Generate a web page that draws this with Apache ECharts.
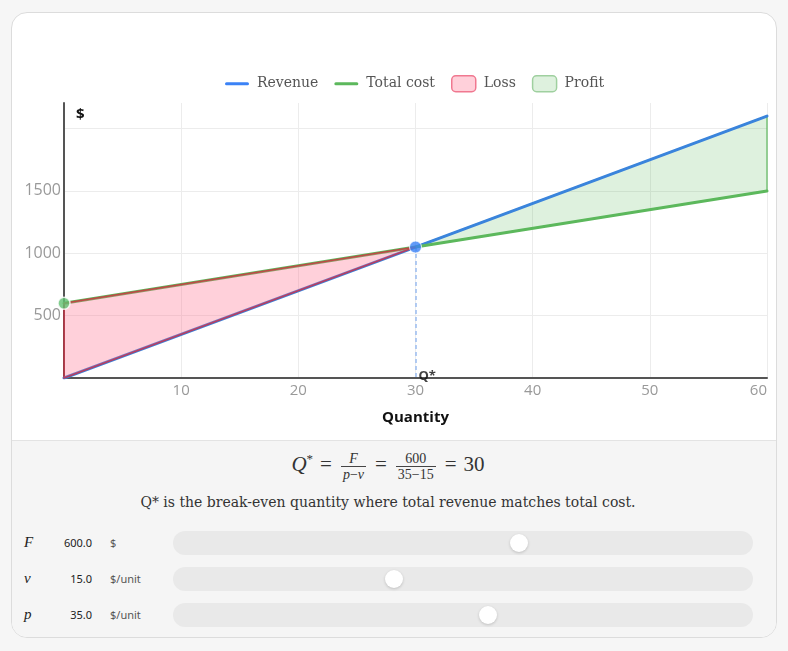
<!DOCTYPE html>
<html>
<head>
<meta charset="utf-8">
<script src="https://cdn.jsdelivr.net/npm/echarts@6/dist/echarts.min.js"></script>
<style>
  html, body { margin: 0; padding: 0; background: #f6f6f6; width: 788px; height: 651px; overflow: hidden; }
  #card { position: absolute; left: 11px; top: 12px; width: 764px; height: 624px; border: 1px solid #dcdcdc; border-radius: 16px; background: #fff; overflow: hidden; }
  #panel { position: absolute; left: 0; top: 427px; width: 764px; height: 200px; background: #f5f5f5; border-top: 1px solid #e3e3e3; }
  #chart { position: absolute; left: 0; top: 0; width: 788px; height: 440px; z-index: 2; }
  .formula { position: absolute; left: 0; width: 776px; top: 451px; text-align: center; font-family: "Liberation Serif", serif; font-size: 21px; color: #333; z-index: 3; }
  .formula i { font-style: italic; }
  .frac { display: inline-block; vertical-align: middle; text-align: center; font-size: 14px; line-height: 15px; margin: 0 2px; }
  .frac .num { display: block; padding: 0 2px; border-bottom: 1px solid #444; }
  .frac .den { display: block; padding: 0 2px; }
  .eq { margin: 0 7px; }
  .desc { position: absolute; left: 0; width: 776px; top: 494px; text-align: center; font-family: "DejaVu Serif", serif; font-size: 14px; color: #333; z-index: 3; }
  .row { position: absolute; left: 0; width: 788px; height: 24px; z-index: 3; }
  .sym { position: absolute; left: 24px; top: 3px; font-family: "Liberation Serif", serif; font-style: italic; font-size: 15px; color: #222; }
  .val { position: absolute; left: 50px; width: 42px; text-align: right; top: 4px; font-family: "Noto Sans", sans-serif; font-size: 11px; color: #222; }
  .unit { position: absolute; left: 110px; top: 4px; font-family: "Noto Sans", sans-serif; font-size: 11px; color: #555; }
  .track { position: absolute; left: 173px; top: 0; width: 580px; height: 24px; border-radius: 12px; background: #e9e9e9; }
  .thumb { position: absolute; top: 3px; width: 18px; height: 18px; border-radius: 9px; background: #fff; box-shadow: 0 1px 3px rgba(0,0,0,0.18); }
</style>
</head>
<body>
<div id="card"><div id="panel"></div></div>
<div id="chart"></div>
<div class="formula" id="formula"></div>
<div class="desc">Q* is the break-even quantity where total revenue matches total cost.</div>
<div id="sliders"></div>
<script>
// ---- data ----
const fixedCost = 600;      // F
const unitCost = 15;        // v
const unitPrice = 35;       // p
const breakEvenQ = 30;      // Q*
const quantity = [0, 30, 60];
const revenue = [0, 1050, 2100];
const totalCost = [600, 1050, 1500];
const lossQ = [0, 30, 0];
const lossV = [0, 1050, 600];
const profitQ = [30, 60, 60];
const profitV = [1050, 2100, 1500];
const xTickLabels = [10, 20, 30, 40, 50, 60];
const yTickLabels = [500, 1000, 1500];
const legendNames = ['Revenue', 'Total cost', 'Loss', 'Profit'];
const sliderRows = [
  { sym: 'F', value: fixedCost, unit: '$', min: 0, max: 1000 },
  { sym: 'v', value: unitCost, unit: '$/unit', min: 0, max: 40 },
  { sym: 'p', value: unitPrice, unit: '$/unit', min: 5, max: 60 }
];

// ---- formula & sliders (HTML) ----
document.getElementById('formula').innerHTML =
  '<i>Q</i><sup style="font-size:13px">*</sup><span class="eq">=</span>' +
  '<span class="frac"><span class="num"><i>F</i></span><span class="den"><i>p</i>\u2212<i>v</i></span></span>' +
  '<span class="eq">=</span>' +
  '<span class="frac"><span class="num">' + fixedCost + '</span><span class="den">' + unitPrice + '\u2212' + unitCost + '</span></span>' +
  '<span class="eq">=</span>' + breakEvenQ;

const sl = document.getElementById('sliders');
sliderRows.forEach((r, i) => {
  const top = 531 + i * 36;
  const frac = (r.value - r.min) / (r.max - r.min);
  const thumbLeft = 12 + frac * (580 - 24) - 9;
  const d = document.createElement('div');
  d.className = 'row';
  d.style.top = top + 'px';
  d.innerHTML = '<span class="sym">' + r.sym + '</span><span class="val">' + r.value.toFixed(1) +
    '</span><span class="unit">' + r.unit + '</span><div class="track"><div class="thumb" style="left:' +
    thumbLeft.toFixed(1) + 'px"></div></div>';
  sl.appendChild(d);
});

// ---- chart ----
const chart = echarts.init(document.getElementById('chart'), null, { renderer: 'canvas' });
const BLUE = '#3b82f6', GREEN = '#5cb85c';
// line icon: tiny invisible corner marks keep the bounding box 24x16 so the bar stays thin
const LINE_ICON = 'path://M0,0 L0.01,0 L0,0.01 Z M24,16 L23.99,16 L24,15.99 Z M1.5,6.5 L22.5,6.5 A1.5,1.5 0 0 1 22.5,9.5 L1.5,9.5 A1.5,1.5 0 0 1 1.5,6.5 Z';

function polygonSeries(name, xs, ys, fill, stroke, z) {
  return {
    name: name, type: 'custom', z: z,
    data: xs.map((x, i) => [x, ys[i]]),
    itemStyle: { color: fill, borderColor: stroke },
    renderItem: function (params, api) {
      if (params.dataIndex !== 0) return null;
      const pts = xs.map((x, i) => api.coord([x, ys[i]]));
      return {
        type: 'polygon',
        shape: { points: pts },
        style: { fill: fill, stroke: stroke, lineWidth: 1.5 }
      };
    },
    silent: true
  };
}

const option = {
  animation: false,
  backgroundColor: 'transparent',
  legend: {
    left: 220, top: 70,
    itemWidth: 24, itemHeight: 16, itemGap: 16,
    textStyle: { fontFamily: 'DejaVu Serif', fontSize: 14, color: '#555', padding: [0, 0, 0, 3] },
    data: [
      { name: legendNames[0], icon: LINE_ICON, itemStyle: { color: BLUE, borderWidth: 0 } },
      { name: legendNames[1], icon: LINE_ICON, itemStyle: { color: GREEN, borderWidth: 0 } },
      { name: legendNames[2], icon: 'roundRect', itemStyle: { color: 'rgba(255,99,132,0.3)', borderColor: '#f07890', borderWidth: 1.5 } },
      { name: legendNames[3], icon: 'roundRect', itemStyle: { color: 'rgba(92,184,92,0.2)', borderColor: '#9fd09f', borderWidth: 1.5 } }
    ]
  },
  grid: { left: 64, right: 21, top: 103, bottom: 62, containLabel: false },
  xAxis: {
    type: 'value', min: 0, max: 60, interval: 10,
    name: 'Quantity', nameLocation: 'middle', nameGap: 32,
    nameTextStyle: { fontFamily: 'Open Sans', fontWeight: 'bold', fontSize: 15, color: '#111' },
    axisLine: { show: true, onZero: false, lineStyle: { color: '#555', width: 2 } },
    axisTick: { show: false },
    axisLabel: {
      color: '#999', fontFamily: 'Open Sans', fontSize: 15, margin: 5, alignMaxLabel: 'right',
      formatter: v => (xTickLabels.indexOf(v) >= 0 ? String(v) : '')
    },
    splitLine: { show: true, lineStyle: { color: '#ececec', width: 1 } }
  },
  yAxis: {
    type: 'value', min: 0, max: 2205, interval: 500,
    name: '$', nameLocation: 'end', nameGap: -19,
    nameTextStyle: { fontFamily: 'Open Sans', fontWeight: 'bold', fontSize: 15, color: '#111', align: 'left', padding: [0, 0, 0, 12] },
    axisLine: { show: true, lineStyle: { color: '#555', width: 2 } },
    axisTick: { show: false },
    axisLabel: {
      color: '#999', fontFamily: 'Open Sans', fontSize: 16, margin: 3,
      formatter: v => (yTickLabels.indexOf(v) >= 0 ? String(v) : ''),
      showMaxLabel: false
    },
    splitLine: { show: true, showMaxLine: false, lineStyle: { color: '#ececec', width: 1 } }
  },
  series: [
    polygonSeries(legendNames[3], profitQ, profitV, 'rgba(92,184,92,0.2)', 'rgba(92,184,92,0.8)', 1),
    {
      name: legendNames[0], type: 'line', z: 2, symbol: 'none',
      data: quantity.map((q, i) => [q, revenue[i]]),
      lineStyle: { color: '#3a84dc', width: 3, cap: 'round' }, itemStyle: { color: BLUE }
    },
    {
      name: legendNames[1], type: 'line', z: 2, symbol: 'none',
      data: quantity.map((q, i) => [q, totalCost[i]]),
      lineStyle: { color: GREEN, width: 3, cap: 'round' }, itemStyle: { color: GREEN }
    },
    polygonSeries(legendNames[2], lossQ, lossV, 'rgba(255,99,132,0.3)', 'rgba(214,40,60,0.75)', 3),
    {
      name: 'fixed', type: 'scatter', z: 5, symbolSize: 12,
      data: [[0, fixedCost]],
      itemStyle: { color: '#62c072', borderColor: '#fff', borderWidth: 1.5 }, silent: true
    },
    {
      name: 'breakeven', type: 'scatter', z: 5, symbolSize: 12,
      data: [[breakEvenQ, unitPrice * breakEvenQ]],
      itemStyle: { color: BLUE, borderColor: '#fff', borderWidth: 1 }, silent: true,
      markLine: {
        silent: true, symbol: 'none', z: 1,
        lineStyle: { color: '#9bbcf0', type: [4, 3], width: 1.5 },
        label: { show: false },
        data: [[{ coord: [breakEvenQ, unitPrice * breakEvenQ] }, { coord: [breakEvenQ, 0] }]]
      }
    },
    {
      name: 'qlabel', type: 'scatter', z: 6, symbolSize: 0,
      data: [[breakEvenQ, 0]], silent: true,
      label: { show: true, formatter: 'Q*', position: 'right', distance: 3, offset: [0, -2],
        fontFamily: 'Open Sans', fontWeight: 'bold', fontSize: 13, color: '#111' }
    }
  ]
};
chart.setOption(option);
</script>
</body>
</html>
